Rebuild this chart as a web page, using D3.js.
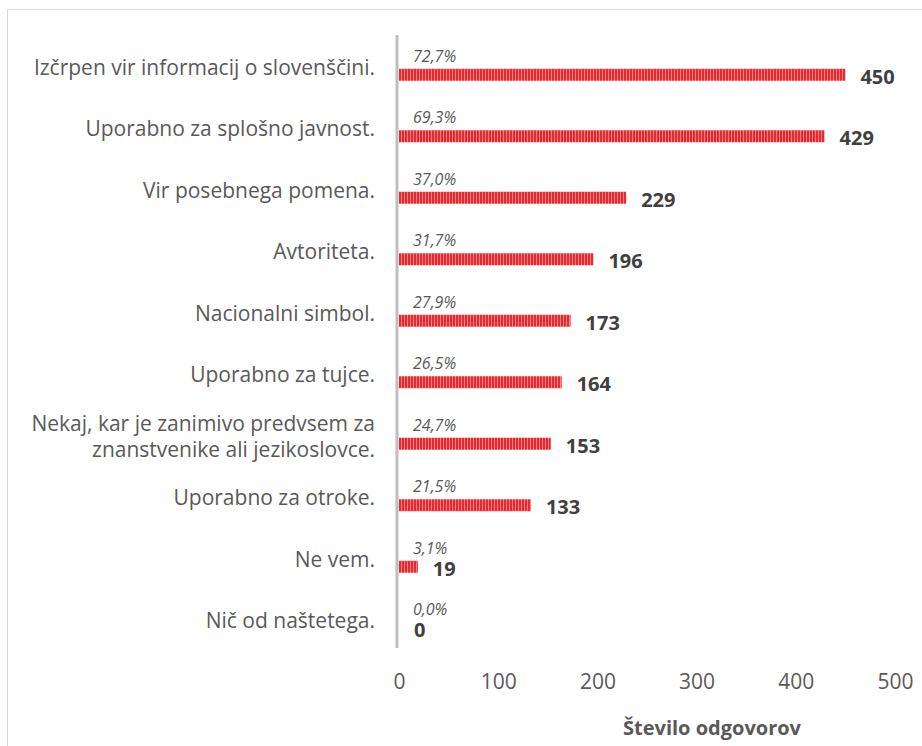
<!DOCTYPE html>
<html>
<head>
<meta charset="utf-8">
<script src="https://cdn.jsdelivr.net/npm/d3@7"></script>
<style>
body { margin: 0; background: #fff; }
text { font-family: "Open Sans", "Noto Sans", sans-serif; }
</style>
</head>
<body>
<svg id="chart"></svg>
<script>
var categories = [
	"Izčrpen vir informacij o slovenščini.",
	"Uporabno za splošno javnost.",
	"Vir posebnega pomena.",
	"Avtoriteta.",
	"Nacionalni simbol.",
	"Uporabno za tujce.",
	"Nekaj, kar je zanimivo predvsem za|znanstvenike ali jezikoslovce.",
	"Uporabno za otroke.",
	"Ne vem.",
	"Nič od naštetega."
];
var counts = [450, 429, 229, 196, 173, 164, 153, 133, 19, 0];
var percents = ["72,7%", "69,3%", "37,0%", "31,7%", "27,9%", "26,5%", "24,7%", "21,5%", "3,1%", "0,0%"];
var ticks = [0, 100, 200, 300, 400, 500];
var axisTitle = "Število odgovorov";

var W = 922, H = 746;
var textColor = "#595959";

var svg = d3.select("#chart")
	.attr("width", W)
	.attr("height", H);

// outer chart border (right and bottom edges fall outside the window)
svg.append("rect")
	.attr("x", 7.5).attr("y", 9.5)
	.attr("width", 930).attr("height", 760)
	.attr("fill", "none")
	.attr("stroke", "#d9d9d9");

// stripe pattern for bars
var defs = svg.append("defs");
var pat = defs.append("pattern")
	.attr("id", "stripes")
	.attr("patternUnits", "userSpaceOnUse")
	.attr("width", 3).attr("height", 10);
pat.append("rect").attr("width", 3).attr("height", 10).attr("fill", "#e62a30");
pat.append("rect").attr("x", 2).attr("width", 1).attr("height", 10).attr("fill", "#f38286");

var x = d3.scaleLinear()
	.domain([0, 500])
	.range([399, 895]);

var y = d3.scaleBand()
	.domain(categories)
	.range([37, 652]);

var barH = 12, barOff = 1;

function mid(i) { return y(categories[i]) + y.bandwidth() / 2; }

// category labels
var lab = svg.append("g").selectAll("text")
	.data(categories)
	.enter().append("text")
	.attr("text-anchor", "end")
	.attr("fill", textColor)
	.style("font-size", "21px");
lab.each(function(d, i) {
	var lines = d.split("|");
	var cy = mid(i);
	var lh = 26;
	var t = d3.select(this);
	lines.forEach(function(l, k) {
		t.append("tspan")
			.attr("x", 375)
			.attr("y", cy + 7 + (k - (lines.length - 1) / 2) * lh)
			.text(l);
	});
});

// bars
svg.append("g").selectAll("rect")
	.data(counts)
	.enter().append("rect")
	.attr("x", x(0))
	.attr("y", function(d, i) { return mid(i) + barOff; })
	.attr("width", function(d) { return x(d) - x(0); })
	.attr("height", barH)
	.attr("fill", "url(#stripes)");

// vertical axis line
svg.append("line")
	.attr("x1", 397).attr("x2", 397)
	.attr("y1", 35).attr("y2", 648)
	.attr("stroke", "#bfbfbf")
	.attr("stroke-width", 3);

// percent labels
svg.append("g").selectAll("text")
	.data(percents)
	.enter().append("text")
	.attr("x", 413)
	.attr("y", function(d, i) { return mid(i) - 6; })
	.attr("fill", textColor)
	.style("font-size", "16px")
	.style("font-style", "italic")
	.text(function(d) { return d; });

// value labels
svg.append("g").selectAll("text")
	.data(counts)
	.enter().append("text")
	.attr("x", function(d) { return x(d) + 15; })
	.attr("y", function(d, i) { return mid(i) + 16; })
	.attr("fill", "#404040")
	.style("font-size", "20px")
	.style("font-weight", "bold")
	.text(function(d) { return d; });

// x axis ticks
var xAxis = d3.axisBottom(x)
	.tickValues(ticks)
	.tickSize(0)
	.tickPadding(0);
var gx = svg.append("g")
	.attr("transform", "translate(0,689)")
	.call(xAxis);
gx.select(".domain").remove();
gx.selectAll("text")
	.attr("fill", textColor)
	.attr("y", 0)
	.attr("dy", null)
	.style("font-size", "21px")
	.style("font-family", "'Open Sans', sans-serif");

// axis title
svg.append("text")
	.attr("x", 712)
	.attr("y", 735)
	.attr("text-anchor", "middle")
	.attr("fill", textColor)
	.style("font-size", "20px")
	.style("font-weight", "bold")
	.text(axisTitle);
</script>
</body>
</html>
